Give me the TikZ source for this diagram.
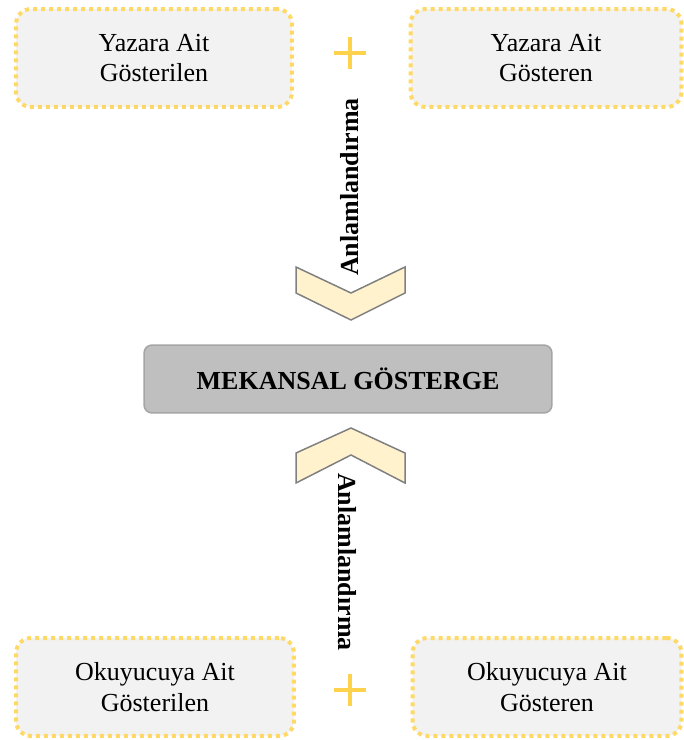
\documentclass[tikz,border=0pt]{standalone}
\usepackage{fontspec}
\setmainfont{Liberation Serif}
\definecolor{boxfill}{HTML}{F2F2F2}
\definecolor{dotgold}{HTML}{FFD966}
\definecolor{plusgold}{HTML}{FFD24D}
\definecolor{midfill}{HTML}{BFBFBF}
\definecolor{midline}{HTML}{A5A5A5}
\definecolor{chevfill}{HTML}{FFF2CC}
\definecolor{chevline}{HTML}{808080}
\begin{document}
\begin{tikzpicture}[x=0.02cm,y=-0.02cm]
	\useasboundingbox (0,0) rectangle (683,740);
	\begin{scope}[every node/.style={font=\fontsize{14.8}{17.4}\selectfont}]
		\tikzstyle{sign}=[draw=dotgold,fill=boxfill,line width=0.08cm,dash pattern=on 0.08cm off 0.08cm,rounded corners=0.3cm,align=center,minimum height=1.96cm,inner sep=0pt];
		\tikzstyle{mid}=[draw=midline,fill=midfill,line width=0.03cm,rounded corners=0.16cm,minimum width=8.16cm,minimum height=1.36cm,font=\fontsize{14.8}{17.4}\selectfont\bfseries];
		\tikzstyle{chev}=[draw=chevline,fill=chevfill,line width=0.03cm];
		\tikzstyle{plus}=[draw=plusgold,line width=0.07cm];
		\tikzstyle{verb}=[font=\fontsize{14.8}{17.4}\selectfont\bfseries,inner sep=0pt];
		\path (154,58 ) node [sign,minimum width=5.52cm] (yzgl) {Yazara Ait\\Gösterilen};
		\path (546,58 ) node [sign,minimum width=5.42cm] (yzgn) {Yazara Ait\\Gösteren};
		\path (155,687) node [sign,minimum width=5.56cm] (okgl) {Okuyucuya Ait\\Gösterilen};
		\path (547,687) node [sign,minimum width=5.38cm] (okgn) {Okuyucuya Ait\\Gösteren};
		\path (348,379) node [mid] (mek) {MEKANSAL GÖSTERGE};
		\path (350,187) node [verb,rotate=90]  (anl1) {Anlamlandırma};
		\path (347,562) node [verb,rotate=-90] (anl2) {Anlamlandırma};
		\draw[plus] (350,37) -- (350,69) (334,53) -- (366,53);
		\draw[plus] (350,674) -- (350,706) (334,690) -- (366,690);
		\draw[chev] (296,267) -- (351,293) -- (405,267) -- (405,293) -- (351,320) -- (296,293) -- cycle;
		\draw[chev] (351,428) -- (405,453) -- (405,483) -- (351,455) -- (296,483) -- (296,453) -- cycle;
	\end{scope}
\end{tikzpicture}
\end{document}
